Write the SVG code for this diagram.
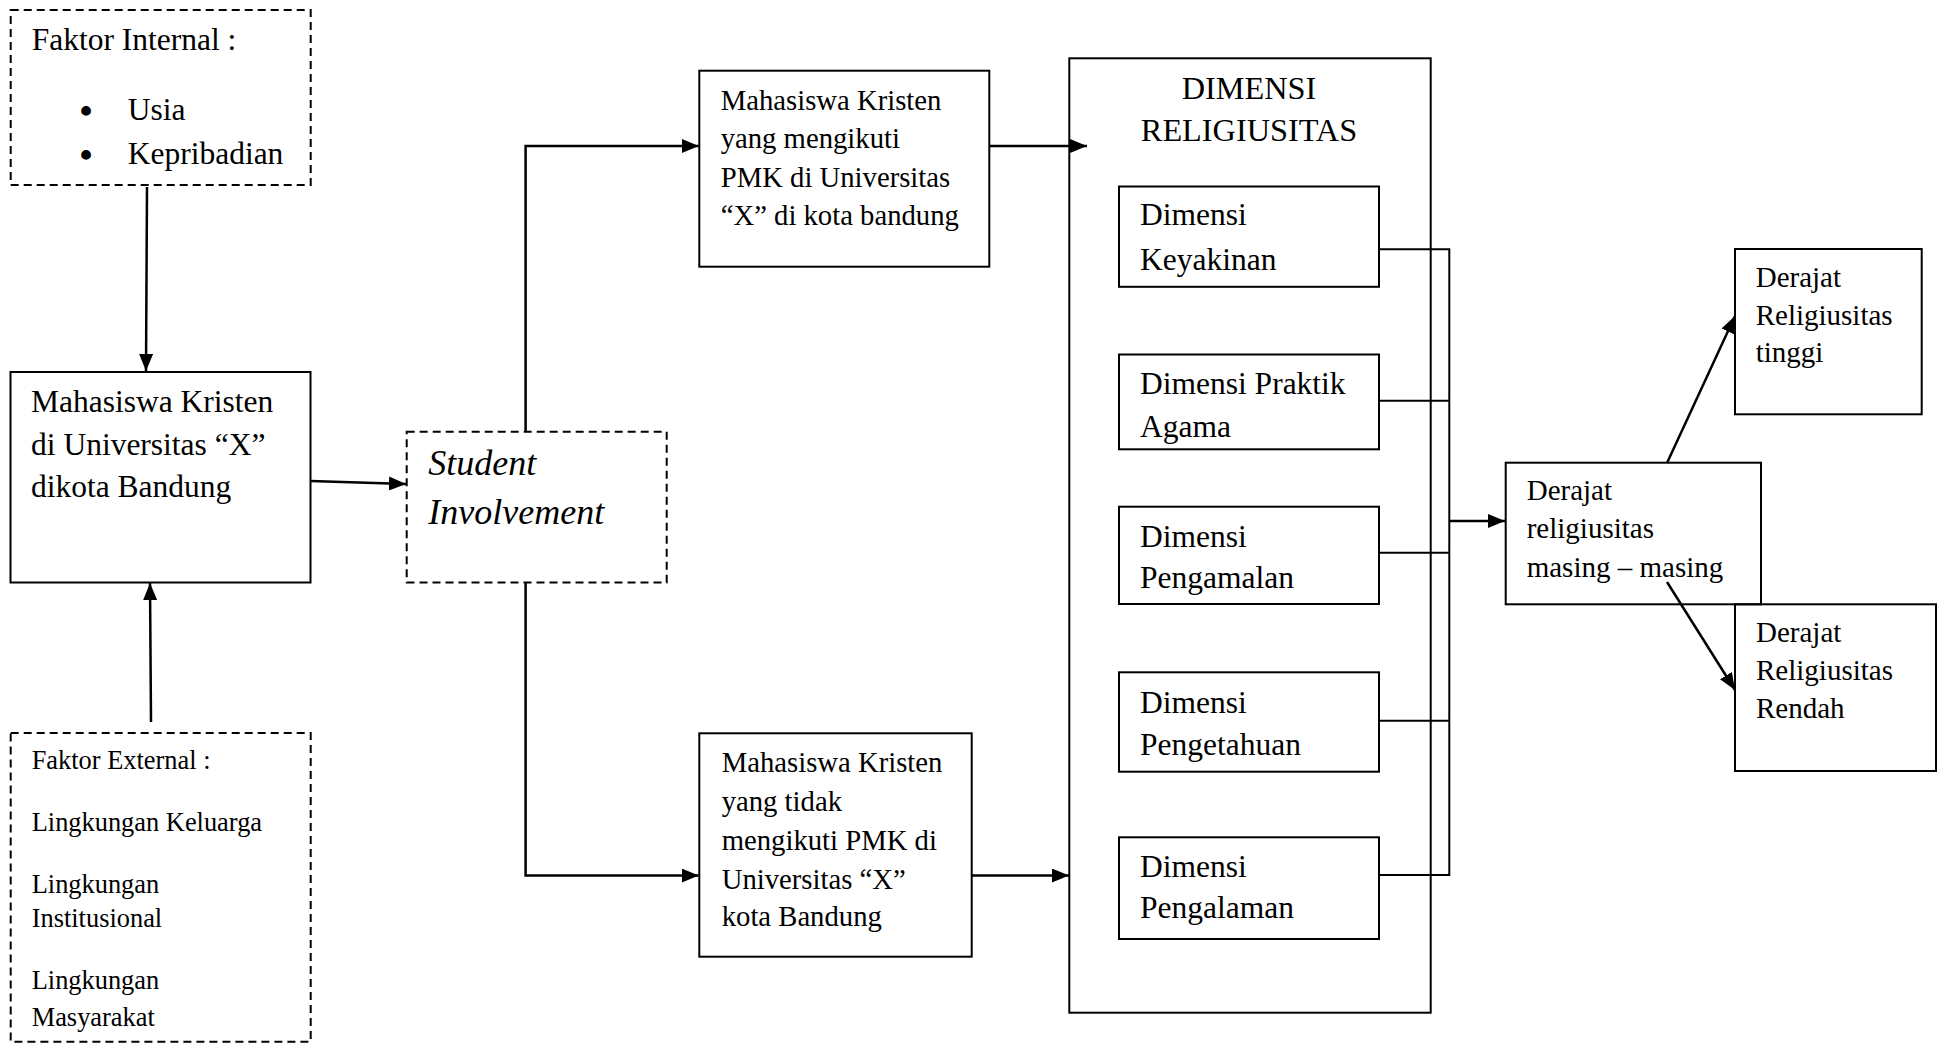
<svg xmlns="http://www.w3.org/2000/svg" width="1939" height="1044" viewBox="0 0 1939 1044">
<style>
text{font-family:"Liberation Serif","Times New Roman",serif;fill:#000}
.box{fill:none;stroke:#000;stroke-width:2}
.dash{fill:none;stroke:#000;stroke-width:2;stroke-dasharray:8 5}
.con{fill:none;stroke:#000;stroke-width:2.5}
.bus{fill:none;stroke:#000;stroke-width:2}
.arr{marker-end:url(#ah)}
.f31{font-size:31.5px}
.f26{font-size:26.4px}
.f29{font-size:28.7px}
.f36{font-size:36px;font-style:italic}
.f30{font-size:32.3px}
.fd{font-size:29px}
.bul{font-size:36px;font-weight:bold}
</style>
<defs>
<marker id="ah" viewBox="0 0 17 14" refX="17" refY="7" markerWidth="17" markerHeight="14" markerUnits="userSpaceOnUse" orient="auto">
<path d="M0,0 L17,7 L0,14 Z" fill="#000"/>
</marker>
<clipPath id="cpAgama"><rect x="1119" y="355" width="260" height="94"/></clipPath>
<clipPath id="cpPengamalan"><rect x="1119" y="507" width="260" height="97"/></clipPath>
<clipPath id="cpExt"><rect x="10" y="733" width="301" height="309"/></clipPath>
</defs>
<rect width="1939" height="1044" fill="#fff"/>

<g id="connectors">
<path class="con arr" d="M147,187 L146,371"/>
<path class="con arr" d="M151,722 L150,583"/>
<path class="con arr" d="M310.5,481 L406,484"/>
<path class="con arr" d="M525.6,432 V146 H698.7"/>
<path class="con arr" d="M525.6,582.5 V875.5 H698.7"/>
<path class="con arr" d="M989.3,146 H1087"/>
<path class="con arr" d="M971.7,875.5 H1069"/>
<path class="bus" d="M1379,249.3 H1449.3 M1379,400.7 H1449.3 M1379,552.7 H1449.3 M1379,720.7 H1449.3 M1379,875 H1449.3 M1449.3,248.3 V876"/>
<path class="con arr" d="M1449.3,521 H1505"/>
<path class="con arr" d="M1667,463 L1735,316"/>
<path class="con arr" d="M1667,582 L1735,690"/>
</g>

<g id="faktor-internal">
<rect class="dash" x="10.7" y="10" width="300" height="175"/>
<text class="f31" x="31.7" y="50">Faktor Internal :</text>
<text class="bul" x="86" y="123" text-anchor="middle">•</text>
<text class="f31" x="127.7" y="120">Usia</text>
<text class="bul" x="86" y="167" text-anchor="middle">•</text>
<text class="f31" x="127.7" y="164">Kepribadian</text>
</g>

<g id="mahasiswa-kristen">
<rect class="box" x="10.5" y="372" width="300" height="210.5"/>
<text class="f31" x="31" y="412">Mahasiswa Kristen</text>
<text class="f31" x="31" y="454.5">di Universitas “X”</text>
<text class="f31" x="31" y="497">dikota Bandung</text>
</g>

<g id="faktor-external">
<rect class="dash" x="10.7" y="733" width="300" height="308.7"/>
<g clip-path="url(#cpExt)">
<text class="f26" x="31.7" y="769">Faktor External :</text>
<text class="f26" x="31.7" y="831">Lingkungan Keluarga</text>
<text class="f26" x="31.7" y="893">Lingkungan</text>
<text class="f26" x="31.7" y="927">Institusional</text>
<text class="f26" x="31.7" y="989">Lingkungan</text>
<text class="f26" x="31.7" y="1026">Masyarakat</text>
</g>
</g>

<g id="student-involvement">
<rect class="dash" x="406.7" y="431.7" width="260" height="150.8"/>
<text class="f36" x="428.3" y="475">Student</text>
<text class="f36" x="428.3" y="524.3">Involvement</text>
</g>

<g id="mahasiswa-pmk">
<rect class="box" x="699.3" y="70.7" width="290" height="196"/>
<text class="f29" x="720.7" y="110">Mahasiswa Kristen</text>
<text class="f29" x="720.7" y="148">yang mengikuti</text>
<text class="f29" x="720.7" y="186.5">PMK di Universitas</text>
<text class="f29" x="720.7" y="225">“X” di kota bandung</text>
</g>

<g id="mahasiswa-non-pmk">
<rect class="box" x="699.3" y="733.3" width="272.4" height="223.4"/>
<text class="f29" x="721.7" y="772">Mahasiswa Kristen</text>
<text class="f29" x="721.7" y="811">yang tidak</text>
<text class="f29" x="721.7" y="850">mengikuti PMK di</text>
<text class="f29" x="721.7" y="889">Universitas “X”</text>
<text class="f29" x="721.7" y="926">kota Bandung</text>
</g>

<g id="dimensi-religiusitas">
<rect class="box" x="1069.3" y="58.3" width="361.4" height="954.4"/>
<text class="f30" x="1249" y="99" text-anchor="middle">DIMENSI</text>
<text class="f30" x="1249" y="140.7" text-anchor="middle">RELIGIUSITAS</text>
</g>

<g id="dimensi-keyakinan">
<rect class="box" x="1119" y="186.5" width="260" height="100.3"/>
<text class="f31" x="1140" y="225">Dimensi</text>
<text class="f31" x="1140" y="270">Keyakinan</text>
</g>

<g id="dimensi-praktik">
<rect class="box" x="1119" y="354.5" width="260" height="94.8"/>
<g clip-path="url(#cpAgama)">
<text class="f31" x="1140" y="394">Dimensi Praktik</text>
<text class="f31" x="1140" y="436.7">Agama</text>
</g>
</g>

<g id="dimensi-pengamalan">
<rect class="box" x="1119" y="506.7" width="260" height="97.3"/>
<g clip-path="url(#cpPengamalan)">
<text class="f31" x="1140" y="546.7">Dimensi</text>
<text class="f31" x="1140" y="588.3">Pengamalan</text>
</g>
</g>

<g id="dimensi-pengetahuan">
<rect class="box" x="1119" y="672.3" width="260" height="99.4"/>
<text class="f31" x="1140" y="712.7">Dimensi</text>
<text class="f31" x="1140" y="755">Pengetahuan</text>
</g>

<g id="dimensi-pengalaman">
<rect class="box" x="1119" y="837.3" width="260" height="101.7"/>
<text class="f31" x="1140" y="877.3">Dimensi</text>
<text class="f31" x="1140" y="918.3">Pengalaman</text>
</g>

<g id="derajat-masing">
<rect class="box" x="1505.7" y="462.7" width="255.3" height="141.6"/>
<text class="fd" x="1526.7" y="500">Derajat</text>
<text class="fd" x="1526.7" y="538.3">religiusitas</text>
<text class="fd" x="1526.7" y="576.7">masing – masing</text>
</g>

<g id="derajat-tinggi">
<rect class="box" x="1735" y="249" width="186.7" height="165.3"/>
<text class="fd" x="1755.7" y="287">Derajat</text>
<text class="fd" x="1755.7" y="325">Religiusitas</text>
<text class="fd" x="1755.7" y="362">tinggi</text>
</g>

<g id="derajat-rendah">
<rect class="box" x="1735" y="604.3" width="201" height="166.7"/>
<text class="fd" x="1756" y="641.7">Derajat</text>
<text class="fd" x="1756" y="680">Religiusitas</text>
<text class="fd" x="1756" y="718.3">Rendah</text>
</g>
</svg>
